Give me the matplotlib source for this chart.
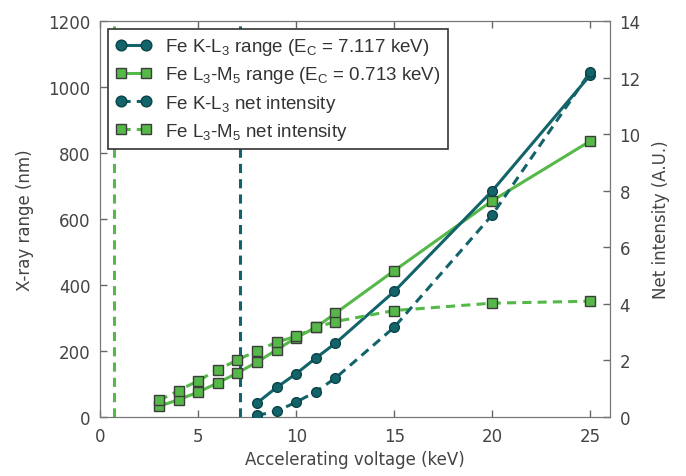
import numpy as np
import matplotlib
matplotlib.use("Agg")
import matplotlib.pyplot as plt

plt.rcParams['font.family'] = 'DejaVu Sans'
plt.rcParams['mathtext.default'] = 'regular'

# data
kv_k = [8, 9, 10, 11, 12, 15, 20, 25]
range_k = [42, 89, 131, 178, 223, 380, 685, 1036]
net_k = [0.05, 0.2, 0.52, 0.89, 1.37, 3.17, 7.14, 12.2]

kv_l = [3, 4, 5, 6, 7, 8, 9, 10, 11, 12, 15, 20, 25]
range_l = [32, 52, 75, 103, 133, 166, 203, 240, 271, 314, 443, 655, 836]
net_l = [0.58, 0.93, 1.28, 1.67, 2.01, 2.34, 2.64, 2.85, 3.16, 3.37, 3.76, 4.02, 4.09]

ec_k = 7.117
ec_l = 0.713

teal = '#12636a'
green = '#55b848'
gray = '#444444'

fig = plt.figure(figsize=(6.86, 4.77), dpi=100)
ax = fig.add_axes([0.146, 0.124, 0.743, 0.830])
ax2 = ax.twinx()

l1, = ax.plot(kv_k, range_k, '-o', color=teal, lw=2.2, ms=7, mfc=teal, mec='#0b4448', mew=1,
              label='Fe K-L$_3$ range (E$_C$ = 7.117 keV)', zorder=4)
l2, = ax.plot(kv_l, range_l, '-s', color=green, lw=2.2, ms=7, mfc=green, mec='#3c3c3c', mew=1,
              label='Fe L$_3$-M$_5$ range (E$_C$ = 0.713 keV)', zorder=3)
l3, = ax2.plot(kv_k, net_k, '--o', color=teal, lw=2.2, ms=7, mfc=teal, mec='#0b4448', mew=1,
               dashes=(3, 2), label='Fe K-L$_3$ net intensity', zorder=4)
l4, = ax2.plot(kv_l, net_l, '--s', color=green, lw=2.2, ms=7, mfc=green, mec='#3c3c3c', mew=1,
               dashes=(3, 2), label='Fe L$_3$-M$_5$ net intensity', zorder=3)

ax.axvline(ec_k, color=teal, ls='--', lw=2.2, dashes=(3, 2))
ax.axvline(ec_l, color=green, ls='--', lw=2.2, dashes=(3, 2))

ax.set_xlim(0, 26)
ax.set_ylim(0, 1200)
ax2.set_ylim(0, 14)
ax.set_xticks([0, 5, 10, 15, 20, 25])
ax.set_yticks(np.arange(0, 1201, 200))
ax2.set_yticks(np.arange(0, 15, 2))

ax.set_xlabel('Accelerating voltage (keV)', fontsize=12, color=gray)
ax.set_ylabel('X-ray range (nm)', fontsize=12, color=gray, labelpad=10)
ax2.set_ylabel('Net intensity (A.U.)', fontsize=12, color=gray, labelpad=8)

for a in (ax, ax2):
    a.tick_params(direction='in', length=5, width=1, color='#666666', labelsize=12,
                  labelcolor=gray, pad=7)
    for s in a.spines.values():
        s.set_color('#777777')
ax.tick_params(top=True, labeltop=False)

leg = ax.legend(handles=[l1, l2, l3, l4], loc='upper left', bbox_to_anchor=(0.016, 0.98),
                numpoints=2, fancybox=False, edgecolor='#333333', framealpha=1,
                prop={'family': 'Liberation Sans', 'size': 13.5}, handlelength=1.9,
                borderpad=0.4, labelspacing=0.38, handletextpad=0.7, borderaxespad=0,
                markerscale=1.1)
leg.get_frame().set_linewidth(1.2)
for t in leg.get_texts():
    t.set_color('#333333')
leg.set_zorder(10)

fig.savefig('out.png', dpi=100)
